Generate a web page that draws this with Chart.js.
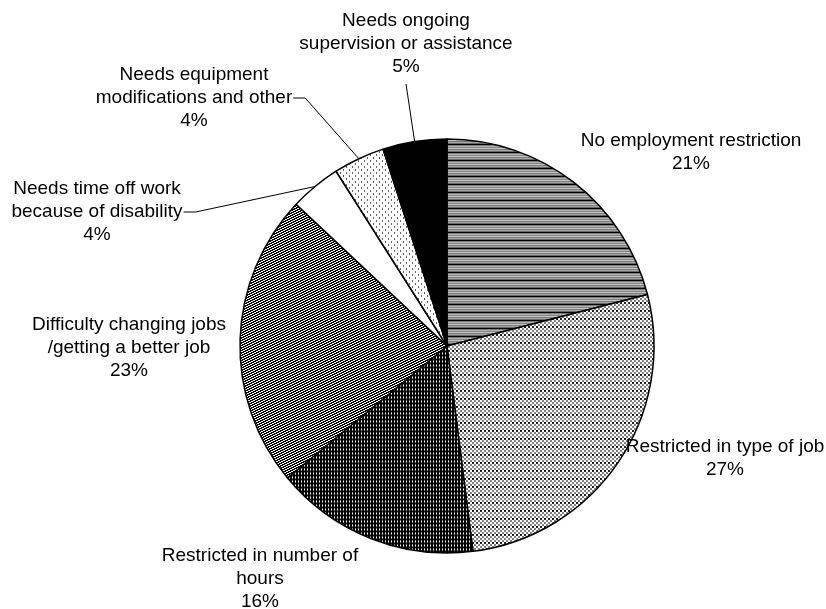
<!DOCTYPE html>
<html>
<head>
<meta charset="utf-8">
<script src="https://cdn.jsdelivr.net/npm/chart.js@4.4.1/dist/chart.umd.min.js"></script>
<style>
  body { margin: 0; background: #fff; }
  canvas { display: block; }
</style>
</head>
<body>
<canvas id="pie" width="826" height="609"></canvas>
<script>
// data, clockwise from 12 o'clock
const categories = [
  ['No employment restriction'],
  ['Restricted in type of job'],
  ['Restricted in number of', 'hours'],
  ['Difficulty changing jobs', '/getting a better job'],
  ['Needs time off work', 'because of disability'],
  ['Needs equipment', 'modifications and other'],
  ['Needs ongoing', 'supervision or assistance']
]
const shares = [21, 27, 16, 23, 4, 4, 5]

// label block centre relative to the pie centre, and leader type
const labelOffset = [[244, -194], [278, 112], [-187, 233], [-318, 2], [-350, -134], [-253, -248], [-41, -302]]
const leaderType = [null, null, null, null, 'side', 'side', 'bottom']

function makePattern(w, h, pix) {
  const c = document.createElement('canvas')
  c.width = w
  c.height = h
  const g = c.getContext('2d')
  for (let y = 0; y < h; y++) {
    for (let x = 0; x < w; x++) {
      g.fillStyle = pix(x, y)
      g.fillRect(x, y, 1, 1)
    }
  }
  return g.createPattern(c, 'repeat')
}

const hLines = ['#000', '#7a7a7a', '#b4b4b4', '#808080', '#c8c8c8', '#7a7a7a', '#a8a8a8', '#666']
const fills = [
  makePattern(1, 8, (x, y) => hLines[y]),
  makePattern(4, 8, (x, y) => {
    const row = Math.floor(y / 2), col = Math.floor(x / 2)
    if ((row + col) % 2 == 0) return '#fff'
    return row == 3 ? '#222' : '#808080'
  }),
  makePattern(3, 4, (x, y) => x == 1 ? ['#888', '#fff', '#888', '#000'][y] : '#000'),
  makePattern(5, 5, (x, y) => ((x + 2 * y) % 5) < 3 ? '#000' : '#fff'),
  '#fff',
  makePattern(6, 6, (x, y) => ((x == 1 && (y == 1 || y == 2)) || (x == 4 && (y == 4 || y == 5))) ? '#666' : '#fff'),
  '#000'
]

const FONT = '19px "Liberation Sans", Arial, sans-serif'
const LINE_H = 23

const labelPlugin = {
  id: 'excelLabels',
  afterDatasetsDraw(chart) {
    const ctx = chart.ctx
    const meta = chart.getDatasetMeta(0)
    ctx.save()
    ctx.font = FONT
    ctx.fillStyle = '#000'
    ctx.strokeStyle = '#000'
    ctx.lineWidth = 1
    ctx.textAlign = 'center'
    ctx.textBaseline = 'middle'
    meta.data.forEach((arc, i) => {
      const lines = categories[i].concat([shares[i] + '%'])
      const cx = arc.x + labelOffset[i][0]
      const cy = arc.y + labelOffset[i][1]
      const top = cy - (lines.length - 1) * LINE_H / 2
      lines.forEach((t, k) => ctx.fillText(t, cx, top + k * LINE_H))

      if (!leaderType[i]) return
      const mid = (arc.startAngle + arc.endAngle) / 2
      const px = arc.x + Math.cos(mid) * arc.outerRadius
      const py = arc.y + Math.sin(mid) * arc.outerRadius
      ctx.beginPath()
      if (leaderType[i] == 'side') {
        const k = lines.length - 2
        const ly = top + k * LINE_H
        const sx = cx + ctx.measureText(lines[k]).width / 2 + 1
        ctx.moveTo(sx, ly)
        ctx.lineTo(sx + 12, ly)
        ctx.lineTo(px, py)
      } else {
        const sy = top + (lines.length - 1) * LINE_H + 17
        ctx.moveTo(cx, sy)
        ctx.lineTo(px, py)
      }
      ctx.stroke()
    })
    ctx.restore()
  }
}

new Chart(document.getElementById('pie'), {
  type: 'pie',
  data: {
    labels: categories.map(c => c.join(' ')),
    datasets: [{
      data: shares,
      backgroundColor: fills,
      borderColor: '#000',
      borderWidth: 1.5
    }]
  },
  options: {
    responsive: false,
    animation: false,
    devicePixelRatio: 1,
    radius: 207,
    layout: { padding: { left: 68, top: 83, right: 0, bottom: 0 } },
    plugins: {
      legend: { display: false },
      tooltip: { enabled: false }
    }
  },
  plugins: [labelPlugin]
})
</script>
</body>
</html>
